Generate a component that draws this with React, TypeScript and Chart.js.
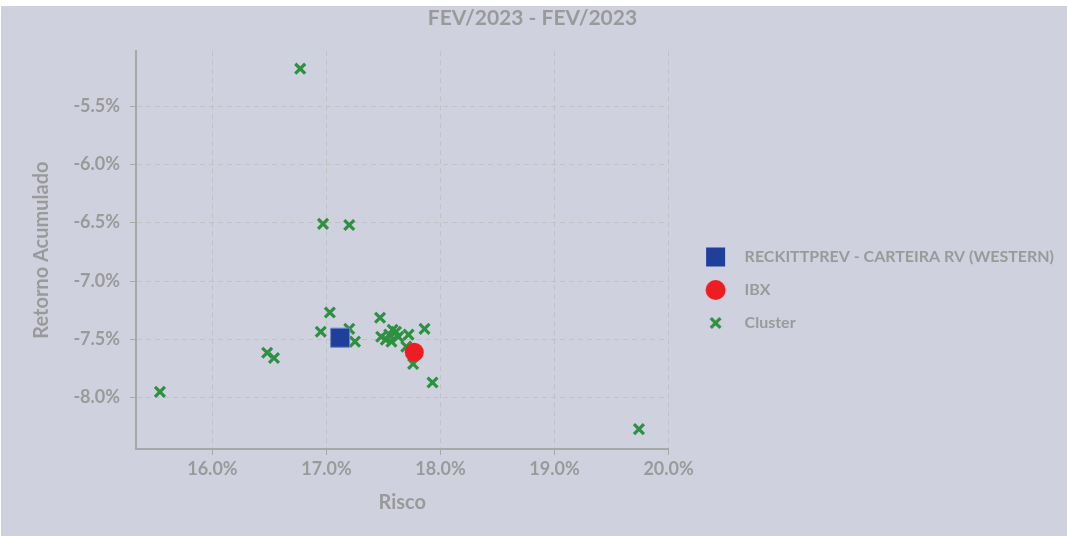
import React, { useEffect, useRef } from "react";
import { Chart, registerables } from "chart.js";

Chart.register(...registerables);

const TITLE = "FEV/2023 - FEV/2023";
const X_TITLE = "Risco";
const Y_TITLE = "Retorno Acumulado";
const SERIES_NAMES = ["RECKITTPREV - CARTEIRA RV (WESTERN)", "IBX", "Cluster"];

// Risk (%) and accumulated return (%)
const carteiraRisk = [17.12];
const carteiraReturn = [-7.486];
const ibxRisk = [17.77];
const ibxReturn = [-7.61];
const clusterRisk = [
  16.77, 16.97, 17.2, 17.03, 16.95, 17.2, 17.25, 16.48, 16.54, 15.54, 17.93, 19.74,
  17.47, 17.48, 17.52, 17.55, 17.58, 17.61, 17.57, 17.63, 17.72, 17.86, 17.7, 17.76,
];
const clusterReturn = [
  -5.18, -6.51, -6.52, -7.27, -7.435, -7.41, -7.52, -7.615, -7.66, -7.95, -7.87, -8.27,
  -7.315, -7.478, -7.503, -7.46, -7.418, -7.435, -7.52, -7.478, -7.46, -7.41, -7.563, -7.71,
];

const X_MIN = 15.33;
const X_MAX = 20;
const Y_MIN = -8.44;
const Y_MAX = -5.03;

const BLUE = "#1F3F9B";
const RED = "#EE1D23";
const GREEN = "#2E9142";
const TEXT = "#9A9A9A";
const FONT = "Lato";

function toPoints(xs: number[], ys: number[]) {
  return xs.map((x, i) => ({ x, y: ys[i] }));
}

function makeMarker(kind: string, color: string): HTMLCanvasElement {
  const c = document.createElement("canvas");
  c.width = 40;
  c.height = 30;
  const ctx = c.getContext("2d")!;
  const cx = 24.5;
  const cy = 15;
  ctx.fillStyle = color;
  ctx.strokeStyle = color;
  if (kind === "rect") {
    ctx.fillRect(cx - 9.5, cy - 9.5, 19, 19);
  } else if (kind === "circle") {
    ctx.beginPath();
    ctx.arc(cx, cy, 10, 0, Math.PI * 2);
    ctx.fill();
  } else {
    ctx.lineWidth = 3.2;
    ctx.beginPath();
    ctx.moveTo(cx - 4.8, cy - 4.8);
    ctx.lineTo(cx + 4.8, cy + 4.8);
    ctx.moveTo(cx - 4.8, cy + 4.8);
    ctx.lineTo(cx + 4.8, cy - 4.8);
    ctx.stroke();
  }
  return c;
}

export default function App() {
  const ref = useRef<HTMLCanvasElement | null>(null);

  useEffect(() => {
    if (!ref.current) return;
    const markers = [makeMarker("rect", BLUE), makeMarker("circle", RED), makeMarker("cross", GREEN)];
    const tickFont = { family: FONT, size: 18, weight: "bold" as const };
    const chart = new Chart(ref.current, {
      type: "scatter",
      data: {
        datasets: [
          {
            label: SERIES_NAMES[0],
            data: toPoints(carteiraRisk, carteiraReturn),
            pointStyle: "rect",
            pointRadius: 13.5,
            backgroundColor: BLUE,
            borderColor: "#6F86C4",
            borderWidth: 1,
          },
          {
            label: SERIES_NAMES[1],
            data: toPoints(ibxRisk, ibxReturn),
            pointStyle: "circle",
            pointRadius: 9.5,
            backgroundColor: RED,
            borderColor: RED,
            borderWidth: 0,
          },
          {
            label: SERIES_NAMES[2],
            data: toPoints(clusterRisk, clusterReturn),
            pointStyle: "crossRot",
            pointRadius: 7,
            backgroundColor: GREEN,
            borderColor: GREEN,
            borderWidth: 3.2,
          },
        ],
      },
      options: {
        animation: false,
        responsive: true,
        maintainAspectRatio: false,
        layout: { padding: { left: 0, top: 0, bottom: 0, right: 3 } },
        plugins: {
          tooltip: { enabled: false },
          title: {
            display: true,
            text: TITLE,
            color: TEXT,
            font: { family: FONT, size: 21, weight: "bold" },
            padding: { top: 0, bottom: 20 },
          },
          legend: {
            position: "right",
            maxWidth: 401,
            title: {
              display: true,
              text: " ",
              font: { size: 10 },
              padding: 13,
            },
            labels: {
              usePointStyle: true,
              pointStyleWidth: 51,
              padding: 17,
              color: TEXT,
              font: { family: FONT, size: 16, weight: "bold" },
              generateLabels: (ch: any) => {
                const items = Chart.defaults.plugins.legend.labels.generateLabels(ch);
                return items.map((it: any, i: number) => ({ ...it, pointStyle: markers[i], fontColor: TEXT }));
              },
            },
          },
        },
        scales: {
          x: {
            type: "linear",
            min: X_MIN,
            max: X_MAX,
            afterFit: (s: any) => {
              s.height = 87;
            },
            ticks: {
              stepSize: 1,
              includeBounds: false,
              color: TEXT,
              font: tickFont,
              padding: 3,
              callback: (v: any) => Number(v).toFixed(1) + "%",
            },
            grid: {
              color: "#C2C2C6",
              tickColor: "#A8A8A8",
              tickLength: 6,
              lineWidth: 1,
            },
            border: { color: "#A8A8A8", width: 2, dash: [5, 4] },
            title: {
              display: true,
              text: X_TITLE,
              color: TEXT,
              font: { family: FONT, size: 20, weight: "bold" },
              padding: 21,
            },
          },
          y: {
            type: "linear",
            min: Y_MIN,
            max: Y_MAX,
            afterFit: (s: any) => {
              s.width = 135;
            },
            ticks: {
              stepSize: 0.5,
              includeBounds: false,
              color: TEXT,
              font: tickFont,
              padding: 10,
              callback: (v: any) => Number(v).toFixed(1) + "%",
            },
            grid: {
              color: "#C2C2C6",
              tickColor: "#A8A8A8",
              tickLength: 6,
              lineWidth: 1,
            },
            border: { color: "#A8A8A8", width: 2, dash: [5, 4] },
            title: {
              display: true,
              text: Y_TITLE,
              color: TEXT,
              font: { family: FONT, size: 20, weight: "bold" },
              padding: 29,
            },
          },
        },
      },
    });
    return () => chart.destroy();
  }, []);

  return (
    <div
      style={{
        position: "fixed",
        left: 1,
        top: 6,
        width: 1066,
        height: 530,
        background: "#CFD1DF",
      }}
    >
      <canvas ref={ref} />
    </div>
  );
}
